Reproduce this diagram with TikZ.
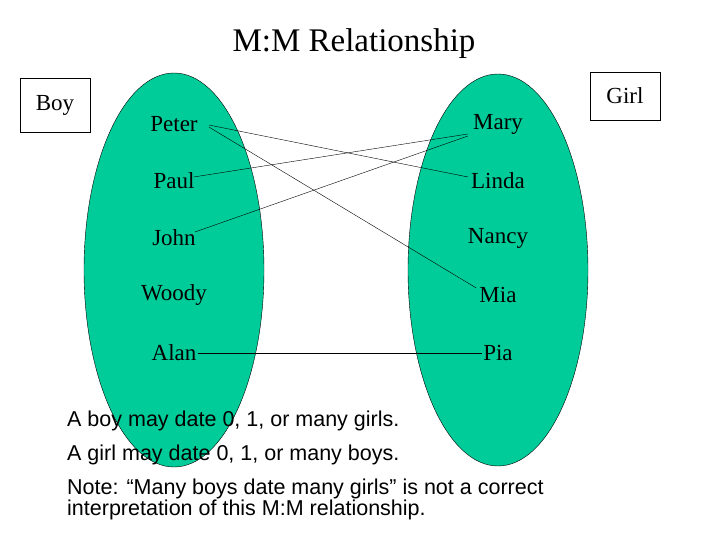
\documentclass[tikz,border=0pt]{standalone}
\usepackage{fontspec}
\setmainfont{Liberation Serif}
\newfontfamily\notefont{Liberation Sans}
\begin{document}
\begin{tikzpicture}[x=1pt,y=-1pt,
  nm/.style={font=\fontsize{23}{26}\selectfont, inner sep=1pt},
  lbl/.style={draw, font=\fontsize{23}{26}\selectfont, minimum width=70pt, inner sep=3pt},
  note/.style={font=\notefont\fontsize{21.5}{23}\selectfont, anchor=west, inner sep=0pt}]
\definecolor{sea}{RGB}{0,204,153}
\useasboundingbox (0,0) rectangle (720,540);
\node[font=\fontsize{33}{36}\selectfont] (title) at (354,44) {M:M Relationship};
\node[lbl, minimum height=54pt] (boy) at (55,105) {Boy};
\node[lbl, minimum height=48pt] (girl) at (625,96) {Girl};
\draw[fill=sea] (174,270) ellipse [x radius=90, y radius=197];
\draw[fill=sea] (498,270) ellipse [x radius=90, y radius=196];
\node[nm] (peter) at (174,124) {Peter};
\node[nm] (paul) at (174,181) {Paul};
\node[nm] (john) at (174,238) {John};
\node[nm] (woody) at (174,295) {Woody};
\node[nm] (alan) at (174,353) {Alan};
\node[nm] (mary) at (498,124) {Mary};
\node[nm] (linda) at (498,181) {Linda};
\node[nm] (nancy) at (498,238) {Nancy};
\node[nm] (mia) at (498,295) {Mia};
\node[nm] (pia) at (498,353) {Pia};
\draw ([shift={(10,1)}]peter.east) -- ([shift={(-2,-4)}]linda.west);
\draw ([shift={(10,3)}]peter.east) -- ([shift={(-2,-7)}]mia.west);
\draw ([shift={(-2,-4)}]paul.east) -- ([shift={(-4,10)}]mary.west);
\draw ([shift={(-2,-6)}]john.east) -- ([shift={(-4,12)}]mary.west);
\draw (alan.east) -- (pia.west);
\node[note] (n1) at (67,421) {A boy may date 0, 1, or many girls.};
\node[note] (n2) at (67,455) {A girl may date 0, 1, or many boys.};
\node[note] (n3) at (67,489) {Note: “Many boys date many girls” is not a correct};
\node[note] (n4) at (67,510) {interpretation of this M:M relationship.};
\end{tikzpicture}
\end{document}
